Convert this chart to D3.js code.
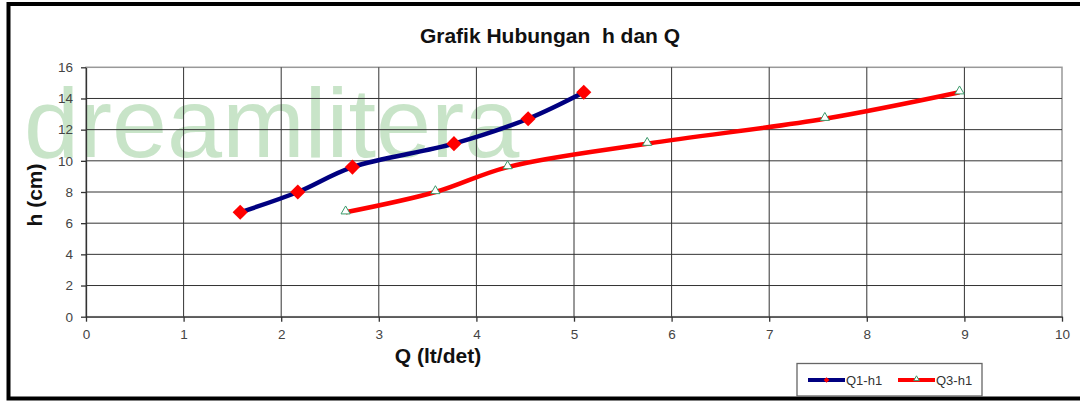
<!DOCTYPE html>
<html>
<head>
<meta charset="utf-8">
<script src="https://cdn.jsdelivr.net/npm/d3@7"></script>
<style>
  html, body { margin: 0; padding: 0; background: #fff; }
  svg { display: block; font-family: "Liberation Sans", Arial, sans-serif; }
</style>
</head>
<body>
<div id="chart"></div>
<script>
// data
const hValues = [6.7, 8.0, 9.6, 11.1, 12.7, 14.4];
const q1Values = [1.58, 2.17, 2.73, 3.77, 4.53, 5.10];
const q3Values = [2.66, 3.58, 4.32, 5.75, 7.57, 8.95];
const seriesNames = ["Q1-h1", "Q3-h1"];
const xTicks = [0, 1, 2, 3, 4, 5, 6, 7, 8, 9, 10];
const yTicks = [0, 2, 4, 6, 8, 10, 12, 14, 16];

const width = 1080;
const height = 403;
const marginTop = 67.3;
const marginRight = 18;
const marginBottom = 86.3;
const marginLeft = 86;

const x = d3.scaleLinear()
  .domain([0, 10])
  .range([marginLeft, width - marginRight]);

const y = d3.scaleLinear()
  .domain([0, 16])
  .range([height - marginBottom, marginTop]);

const svg = d3.select("#chart")
  .append("svg")
  .attr("width", width)
  .attr("height", height);

// outer frame
svg.append("rect")
  .attr("x", 8.5)
  .attr("y", 4)
  .attr("width", 1100)
  .attr("height", 394.5)
  .attr("fill", "#fff")
  .attr("stroke", "#000")
  .attr("stroke-width", 4);

// watermark
svg.append("text")
  .attr("x", 24)
  .attr("y", 157)
  .attr("font-size", 99)
  .attr("fill", "#c8e4c8")
  .text("dreamlitera");

// plot area border
svg.append("rect")
  .attr("x", marginLeft)
  .attr("y", marginTop)
  .attr("width", x(10) - marginLeft)
  .attr("height", y(0) - marginTop)
  .attr("fill", "none")
  .attr("stroke", "#999")
  .attr("stroke-width", 1.5);

// grid
svg.append("g")
  .attr("stroke", "#333")
  .attr("stroke-width", 1)
  .call(g => g.append("g")
    .selectAll("line")
    .data(xTicks.slice(1, -1))
    .join("line")
      .attr("x1", d => x(d))
      .attr("x2", d => x(d))
      .attr("y1", marginTop)
      .attr("y2", y(0)))
  .call(g => g.append("g")
    .selectAll("line")
    .data(yTicks.slice(1, -1))
    .join("line")
      .attr("y1", d => y(d))
      .attr("y2", d => y(d))
      .attr("x1", marginLeft)
      .attr("x2", x(10)));

// axes
svg.append("g")
  .attr("transform", `translate(0,${y(0)})`)
  .call(d3.axisBottom(x).tickValues(xTicks).tickSize(5).tickPadding(8).tickSizeOuter(0))
  .call(g => g.selectAll("path, line").attr("stroke", "#333").attr("stroke-width", 1.3))
  .call(g => g.selectAll("text").attr("fill", "#444").attr("font-size", 13.5)
    .attr("font-family", "Liberation Sans, Arial, sans-serif"));

svg.append("g")
  .attr("transform", `translate(${marginLeft},0)`)
  .call(d3.axisLeft(y).tickValues(yTicks).tickSize(5).tickPadding(8).tickSizeOuter(0))
  .call(g => g.selectAll("path, line").attr("stroke", "#333").attr("stroke-width", 1.3))
  .call(g => g.selectAll("text").attr("fill", "#444").attr("font-size", 13.5)
    .attr("font-family", "Liberation Sans, Arial, sans-serif"));

// titles
svg.append("text")
  .attr("x", 550)
  .attr("y", 43)
  .attr("text-anchor", "middle")
  .attr("font-size", 21)
  .attr("font-weight", "bold")
  .attr("fill", "#111")
  .attr("xml:space", "preserve")
  .text("Grafik Hubungan  h dan Q");

svg.append("text")
  .attr("x", 438)
  .attr("y", 363)
  .attr("text-anchor", "middle")
  .attr("font-size", 21)
  .attr("font-weight", "bold")
  .attr("fill", "#111")
  .text("Q (lt/det)");

svg.append("text")
  .attr("transform", "translate(42,195) rotate(-90)")
  .attr("text-anchor", "middle")
  .attr("font-size", 21)
  .attr("font-weight", "bold")
  .attr("fill", "#111")
  .text("h (cm)");

// lines
const line = d3.line()
  .x(d => x(d[0]))
  .y(d => y(d[1]))
  .curve(d3.curveCatmullRom.alpha(0.5));

const q1Data = q1Values.map((q, i) => [q, hValues[i]]);
const q3Data = q3Values.map((q, i) => [q, hValues[i]]);

svg.append("path")
  .datum(q3Data)
  .attr("fill", "none")
  .attr("stroke", "#ff0000")
  .attr("stroke-width", 4.5)
  .attr("d", line);

svg.append("path")
  .datum(q1Data)
  .attr("fill", "none")
  .attr("stroke", "#000080")
  .attr("stroke-width", 4.5)
  .attr("d", line);

const triangle = d3.symbol().type(d3.symbolTriangle2).size(60);

svg.append("g")
  .selectAll("path")
  .data(q1Data)
  .join("path")
    .attr("transform", d => `translate(${x(d[0])},${y(d[1])}) rotate(45)`)
    .attr("d", d3.symbol().type(d3.symbolSquare).size(115))
    .attr("fill", "#ff0000");

svg.append("g")
  .selectAll("path")
  .data(q3Data)
  .join("path")
    .attr("transform", d => `translate(${x(d[0])},${y(d[1]) - 1})`)
    .attr("d", triangle)
    .attr("fill", "#fff")
    .attr("stroke", "#3a9a6a")
    .attr("stroke-width", 1);

// legend
const legend = svg.append("g");
legend.append("rect")
  .attr("x", 797)
  .attr("y", 363.5)
  .attr("width", 185)
  .attr("height", 32.5)
  .attr("fill", "#fff")
  .attr("stroke", "#666")
  .attr("stroke-width", 1.3);

const legendItems = [
  { name: seriesNames[0], x0: 808, color: "#000080" },
  { name: seriesNames[1], x0: 898, color: "#ff0000" }
];

legendItems.forEach((item, i) => {
  legend.append("line")
    .attr("x1", item.x0).attr("x2", item.x0 + 37)
    .attr("y1", 380).attr("y2", 380)
    .attr("stroke", item.color)
    .attr("stroke-width", 4);
  if (i === 0) {
    legend.append("path")
      .attr("transform", `translate(${item.x0 + 18.5},380) rotate(45)`)
      .attr("d", d3.symbol().type(d3.symbolSquare).size(16))
      .attr("fill", "#ff0000");
  } else {
    legend.append("path")
      .attr("transform", `translate(${item.x0 + 18.5},379)`)
      .attr("d", d3.symbol().type(d3.symbolTriangle2).size(22))
      .attr("fill", "#fff")
      .attr("stroke", "#3a9a6a")
      .attr("stroke-width", 1);
  }
  legend.append("text")
    .attr("x", item.x0 + 38)
    .attr("y", 385)
    .attr("font-size", 13)
    .attr("fill", "#333")
    .text(item.name);
});
</script>
</body>
</html>
